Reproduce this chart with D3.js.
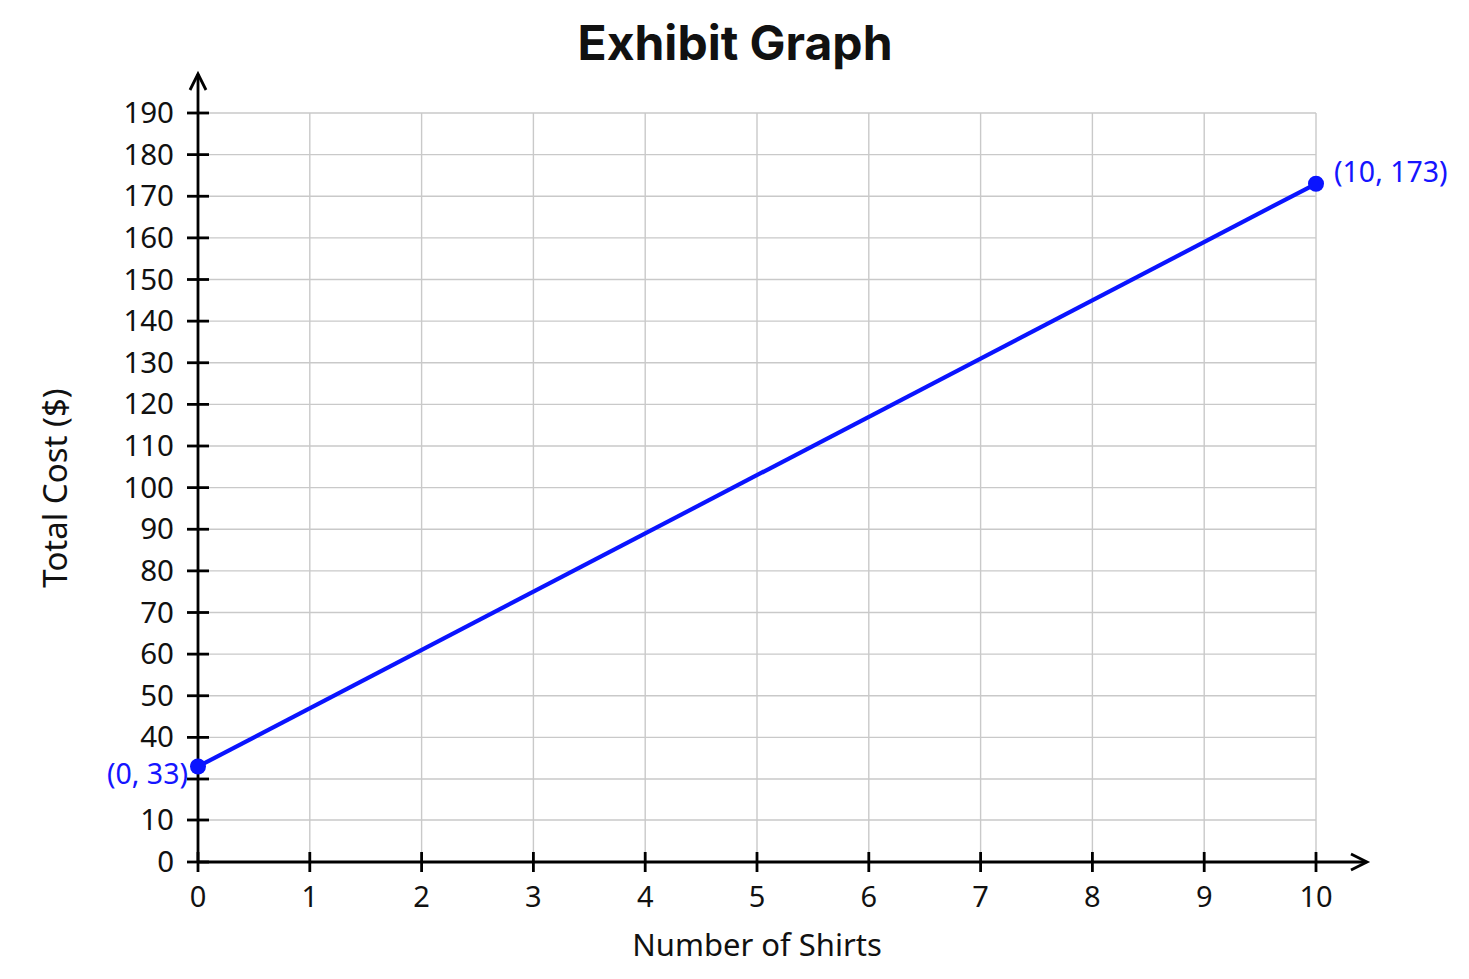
<!DOCTYPE html>
<html><head><meta charset="utf-8">
<script src="https://cdn.jsdelivr.net/npm/d3@7"></script>
<style>body{margin:0;background:#fff}svg{display:block}text{font-family:"Noto Sans","Open Sans",sans-serif}</style>
</head><body>
<svg id="c" width="1469" height="979"></svg>
<script>
const xTicks = [0,1,2,3,4,5,6,7,8,9,10];
const yTicks = [0,10,30,40,50,60,70,80,90,100,110,120,130,140,150,160,170,180,190];
const yTickLabels = ["0","10","","40","50","60","70","80","90","100","110","120","130","140","150","160","170","180","190"];
const yBreakDomain = [0,10,30,190];
const shirts = [0,10];
const cost = [33,173];
const pointLabels = ["(0, 33)","(10, 173)"];
const title = "Exhibit Graph";
const xTitle = "Number of Shirts";
const yTitle = "Total Cost ($)";

const svg = d3.select("#c");
const x = d3.scaleLinear().domain([0,10]).range([198,1316]);
const y = d3.scaleLinear().domain(yBreakDomain).range([862,820,779,113]);

// grid
const grid = svg.append("g").attr("stroke","#c9c9c9").attr("stroke-width",1.4);
xTicks.slice(1).forEach(t=>grid.append("line").attr("x1",x(t)).attr("x2",x(t)).attr("y1",y(190)).attr("y2",y(0)));
yTicks.slice(1).forEach(t=>grid.append("line").attr("x1",x(0)).attr("x2",x(10)).attr("y1",y(t)).attr("y2",y(t)));

// axes
const ax = svg.append("g").attr("stroke","#000").attr("stroke-width",2.8).attr("fill","none");
ax.append("line").attr("x1",x(0)).attr("x2",1366).attr("y1",y(0)).attr("y2",y(0));
ax.append("line").attr("x1",x(0)).attr("x2",x(0)).attr("y1",y(0)).attr("y2",74);
ax.append("path").attr("d",`M${x(0)-8},${90} L${x(0)},${74} L${x(0)+8},${90}`);
ax.append("path").attr("d",`M1351,${y(0)-8} L1367,${y(0)} L1351,${y(0)+8}`);
xTicks.forEach(t=>ax.append("line").attr("x1",x(t)).attr("x2",x(t)).attr("y1",y(0)-10).attr("y2",y(0)+10));
yTicks.forEach(t=>ax.append("line").attr("x1",x(0)-11).attr("x2",x(0)+11).attr("y1",y(t)).attr("y2",y(t)));

svg.append("g").selectAll("text").data(xTicks).join("text")
  .attr("x",d=>x(d)).attr("y",y(0)+45).attr("text-anchor","middle")
  .attr("font-size",29).attr("fill","#111").text(d=>d);
svg.append("g").selectAll("text").data(yTicks).join("text")
  .attr("x",174).attr("y",d=>y(d)+10).attr("text-anchor","end")
  .attr("font-size",29.5).attr("fill","#111").text((d,i)=>yTickLabels[i]);

// line
svg.append("path").datum(shirts.map((s,i)=>[s,cost[i]]))
  .attr("d",d3.line().x(d=>x(d[0])).y(d=>y(d[1])))
  .attr("stroke","#0a14ff").attr("stroke-width",4.2).attr("fill","none");

// labels
const lx = [188, 1334], anchor = ["end","start"], dy=[17,-2];
svg.append("g").selectAll("text").data(shirts).join("text")
  .attr("x",(d,i)=>lx[i]).attr("y",(d,i)=>y(cost[i])+dy[i])
  .attr("text-anchor",(d,i)=>anchor[i]).attr("font-size",28.5).attr("fill","#1515ff").text((d,i)=>pointLabels[i]);
svg.append("g").selectAll("circle").data(shirts).join("circle")
  .attr("cx",d=>x(d)).attr("cy",(d,i)=>y(cost[i])).attr("r",8).attr("fill","#0a14ff");

svg.append("text").attr("x",735).attr("y",60).attr("text-anchor","middle")
  .attr("font-size",48).attr("font-weight","bold").attr("fill","#111")
  .style("font-family","Inter, Roboto, sans-serif").text(title);
svg.append("text").attr("x",757).attr("y",956).attr("text-anchor","middle")
  .attr("font-size",31).attr("fill","#111").text(xTitle);
svg.append("text").attr("transform","translate(67,488) rotate(-90)").attr("text-anchor","middle")
  .attr("font-size",33).attr("fill","#111").text(yTitle);
</script>
</body></html>
